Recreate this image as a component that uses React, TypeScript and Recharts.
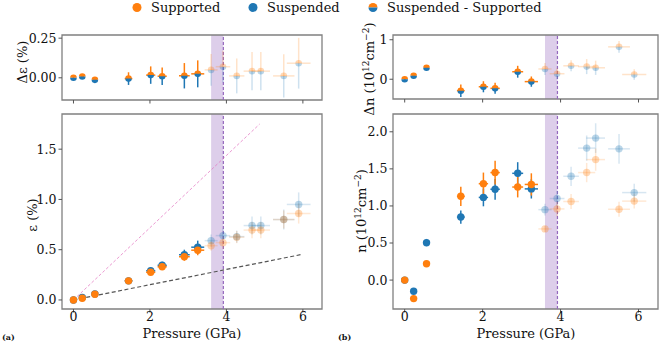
import React from 'react';
import {
  ScatterChart, Scatter, XAxis, YAxis, ErrorBar, ReferenceArea, ReferenceLine,
} from 'recharts';

const ORANGE = '#ff7f0e';
const BLUE = '#1f77b4';
const PURPLE = '#9467bd';
const FONT = '"DejaVu Serif", serif';

// pressure points shared by all panels (GPa)
const pressure = [0, 0.23, 0.56, 1.44, 2.02, 2.32, 2.9, 3.25, 3.6, 3.91, 4.27, 4.67, 4.9, 5.5, 5.89];
const pressureErr = [0.02, 0.05, 0.06, 0.1, 0.12, 0.12, 0.14, 0.17, 0.17, 0.19, 0.2, 0.22, 0.24, 0.28, 0.31];
const FADE_FROM = 8; // points from this index on are drawn translucent

// strain (%)
const strainSupported = [0, 0.017, 0.056, 0.19, 0.275, 0.33, 0.43, 0.495, 0.54, 0.57, 0.625, 0.695, 0.695, 0.8, 0.86];
const strainSupportedErr = [0.005, 0.008, 0.01, 0.015, 0.025, 0.03, 0.04, 0.05, 0.05, 0.06, 0.06, 0.08, 0.08, 0.09, 0.1];
const strainSuspended = [0, 0.025, 0.06, 0.19, 0.29, 0.345, 0.45, 0.525, 0.59, 0.64, 0.63, 0.74, 0.74, 0.8, 0.95];
const strainSuspendedErr = [0.005, 0.01, 0.012, 0.015, 0.03, 0.035, 0.05, 0.065, 0.06, 0.07, 0.06, 0.09, 0.09, 0.1, 0.12];
const strainDiff = [0, 0.008, -0.013, -0.005, 0.017, 0.01, 0.013, 0.025, 0.05, 0.07, 0.012, 0.042, 0.042, 0.012, 0.092];
const strainDiffErr = [0.003, 0.005, 0.006, 0.04, 0.055, 0.055, 0.08, 0.085, 0.1, 0.1, 0.11, 0.12, 0.12, 0.137, 0.16];

// carrier density (1e12 cm^-2)
const densSupported = [0, -0.25, 0.22, 1.13, 1.3, 1.45, 1.255, 1.29, 0.69, 0.96, 1.06, 1.45, 1.625, 0.955, 1.065];
const densSupportedErr = [0.01, 0.01, 0.02, 0.13, 0.15, 0.16, 0.14, 0.15, 0.04, 0.1, 0.1, 0.13, 0.15, 0.1, 0.1];
const densSuspended = [0, -0.15, 0.505, 0.85, 1.115, 1.225, 1.44, 1.23, 0.95, 1.1, 1.4, 1.78, 1.915, 1.77, 1.18];
const densSuspendedErr = [0.01, 0.02, 0.05, 0.09, 0.12, 0.14, 0.15, 0.13, 0.08, 0.1, 0.13, 0.17, 0.2, 0.2, 0.12];
const densDiff = [0, 0.09, 0.29, -0.29, -0.19, -0.23, 0.19, -0.06, 0.26, 0.14, 0.34, 0.32, 0.29, 0.82, 0.12];
const densDiffErr = [0.02, 0.02, 0.03, 0.16, 0.14, 0.14, 0.15, 0.13, 0.15, 0.14, 0.14, 0.19, 0.18, 0.15, 0.13];

// model lines in the strain panel
const pinkModel = [{ x: 0, y: 0 }, { x: 4.87, y: 1.75 }];
const grayModel = [{ x: 0, y: 0 }, { x: 6.0, y: 0.455 }];

// transition band
const band = [3.6, 3.92];

const xDomain = [-0.3, 6.5];
const xTicks = [0, 2, 4, 6];
const strainDiffTicks = [0, 0.25];
const strainTicks = [0, 0.5, 1, 1.5];
const densDiffTicks = [0, 1];
const densTicks = [0, 0.5, 1, 1.5, 2];

type Row = { x: number; y: number; ex: number; ey: number; up: number[]; down: number[]; i: number };

const rows = (ys: number[], errs: number[]): Row[] =>
  pressure.map((x, i) => ({ x, y: ys[i], ex: pressureErr[i], ey: errs[i], up: [0, errs[i]], down: [errs[i], 0], i }));
const solid = (r: Row[]) => r.filter((d) => d.i < FADE_FROM);
const faded = (r: Row[]) => r.filter((d) => d.i >= FADE_FROM);

const Dot = (color: string, r: number, op: number) => (p: any) =>
  <circle cx={p.cx} cy={p.cy} r={r} fill={color} fillOpacity={op} />;

const halfPaths = (cx: number, cy: number, r: number) => ({
  top: `M${cx - r},${cy} A${r},${r} 0 0 1 ${cx + r},${cy} Z`,
  bottom: `M${cx - r},${cy} A${r},${r} 0 0 0 ${cx + r},${cy} Z`,
});

const SplitDot = (r: number, op: number) => (p: any) => {
  const h = halfPaths(p.cx, p.cy, r);
  return (
    <g opacity={op}>
      <path d={h.top} fill={ORANGE} />
      <path d={h.bottom} fill={BLUE} />
    </g>
  );
};

const tickStyle = { fill: '#111', fontSize: 12.5, fontFamily: FONT };

function pointSeries(data: Row[], color: string, op: number, barOp: number, key: string) {
  return (
    <Scatter key={key} data={data} dataKey="y" isAnimationActive={false} shape={Dot(color, 3.7, op)}>
      <ErrorBar dataKey="ey" direction="y" width={0} stroke={color} strokeWidth={1.5} strokeOpacity={barOp} />
      <ErrorBar dataKey="ex" direction="x" width={0} stroke={color} strokeWidth={1.5} strokeOpacity={barOp} />
    </Scatter>
  );
}

function diffSeries(data: Row[], op: number, barOp: number, key: string) {
  return (
    <Scatter key={key} data={data} dataKey="y" isAnimationActive={false} shape={SplitDot(3.3, op)}>
      <ErrorBar dataKey="up" direction="y" width={0} stroke={ORANGE} strokeWidth={1.5} strokeOpacity={barOp} />
      <ErrorBar dataKey="down" direction="y" width={0} stroke={BLUE} strokeWidth={1.5} strokeOpacity={barOp} />
      <ErrorBar dataKey="ex" direction="x" width={0} stroke={ORANGE} strokeWidth={1.5} strokeOpacity={barOp} />
    </Scatter>
  );
}

interface PanelProps {
  left: number; top: number; width: number; height: number;
  marginTop: number; marginRight: number; yWidth: number; xHeight: number;
  yDomain: number[]; yTicks: number[]; yFmt: (v: number) => string;
  xLabels: boolean; children: React.ReactNode;
}

function Panel(p: PanelProps) {
  return (
    <div style={{ position: 'absolute', left: p.left, top: p.top }}>
      <ScatterChart width={p.width} height={p.height}
        margin={{ top: p.marginTop, right: p.marginRight, bottom: 0, left: 0 }}>
        <XAxis type="number" dataKey="x" domain={xDomain} ticks={xTicks} interval={0}
          allowDataOverflow height={p.xHeight} axisLine={false}
          tickLine={{ stroke: '#555' }} tickSize={3.5} tickMargin={0}
          tick={tickStyle} tickFormatter={(v) => (p.xLabels ? String(v) : '')} />
        <YAxis type="number" dataKey="y" domain={p.yDomain} ticks={p.yTicks} interval={0}
          allowDataOverflow width={p.yWidth} axisLine={false}
          tickLine={{ stroke: '#555' }} tickSize={3.5} tickMargin={2}
          tick={tickStyle} tickFormatter={p.yFmt} />
        <ReferenceArea x1={band[0]} x2={band[1]} y1={p.yDomain[0]} y2={p.yDomain[1]}
          fill={PURPLE} fillOpacity={0.32} stroke="none" />
        <ReferenceLine x={band[1]} stroke={PURPLE} strokeWidth={1.2} strokeDasharray="3 2" />
        {p.children}
        <ReferenceArea x1={xDomain[0]} x2={xDomain[1]} y1={p.yDomain[0]} y2={p.yDomain[1]}
          fill="none" stroke="#808080" strokeWidth={1.3} ifOverflow="visible" />
      </ScatterChart>
    </div>
  );
}

const sup = (s: string) => <tspan dy={-5} fontSize={9}>{s}</tspan>;
const base = (s: string) => <tspan dy={5}>{s}</tspan>;

export default function App() {
  const sDiff = rows(strainDiff, strainDiffErr);
  const sSup = rows(strainSupported, strainSupportedErr);
  const sSus = rows(strainSuspended, strainSuspendedErr);
  const nDiff = rows(densDiff, densDiffErr);
  const nSup = rows(densSupported, densSupportedErr);
  const nSus = rows(densSuspended, densSuspendedErr);
  const fmt2 = (v: number) => v.toFixed(2);
  const fmt1 = (v: number) => v.toFixed(1);
  const fmt0 = (v: number) => v.toFixed(0);
  const h = halfPaths(373, 7.5, 4.5);

  return (
    <div style={{ position: 'absolute', left: 0, top: 0, width: 661, height: 343, background: '#fff', fontFamily: FONT }}>
      <Panel left={0} top={0} width={330} height={112} marginTop={35} marginRight={8} yWidth={62} xHeight={12}
        yDomain={[-0.14, 0.27]} yTicks={strainDiffTicks} yFmt={fmt2} xLabels={false}>
        {diffSeries(solid(sDiff), 1, 1, 'ds')}
        {diffSeries(faded(sDiff), 0.3, 0.22, 'df')}
      </Panel>
      <Panel left={0} top={105} width={330} height={238} marginTop={9} marginRight={8} yWidth={62} xHeight={34}
        yDomain={[-0.09, 1.85]} yTicks={strainTicks} yFmt={fmt1} xLabels>
        <ReferenceLine segment={pinkModel} stroke="#e377c2" strokeOpacity={0.75} strokeWidth={1} strokeDasharray="3 2" />
        <ReferenceLine segment={grayModel} stroke="#555" strokeWidth={1.2} strokeDasharray="4 2.5" />
        {pointSeries(solid(sSus), BLUE, 1, 1, 'bs')}
        {pointSeries(solid(sSup), ORANGE, 1, 1, 'os')}
        {pointSeries(faded(sSus), BLUE, 0.3, 0.18, 'bf')}
        {pointSeries(faded(sSup), ORANGE, 0.3, 0.18, 'of')}
      </Panel>
      <Panel left={330} top={0} width={331} height={112} marginTop={35} marginRight={3} yWidth={63} xHeight={13}
        yDomain={[-0.5, 1.12]} yTicks={densDiffTicks} yFmt={fmt0} xLabels={false}>
        {diffSeries(solid(nDiff), 1, 1, 'ds')}
        {diffSeries(faded(nDiff), 0.3, 0.22, 'df')}
      </Panel>
      <Panel left={330} top={105} width={331} height={238} marginTop={9} marginRight={3} yWidth={63} xHeight={34}
        yDomain={[-0.39, 2.24]} yTicks={densTicks} yFmt={fmt1} xLabels>
        {pointSeries(solid(nSus), BLUE, 1, 1, 'bs')}
        {pointSeries(solid(nSup), ORANGE, 1, 1, 'os')}
        {pointSeries(faded(nSus), BLUE, 0.3, 0.18, 'bf')}
        {pointSeries(faded(nSup), ORANGE, 0.3, 0.18, 'of')}
      </Panel>

      <svg width={661} height={343} style={{ position: 'absolute', left: 0, top: 0, pointerEvents: 'none' }}
        fontFamily={FONT} fill="#111">
        {/* legend */}
        <circle cx={137} cy={7.5} r={4.5} fill={ORANGE} />
        <text x={151} y={7.5} fontSize={13} dominantBaseline="central">Supported</text>
        <circle cx={253} cy={7.5} r={4.5} fill={BLUE} />
        <text x={267} y={7.5} fontSize={13} dominantBaseline="central">Suspended</text>
        <path d={h.top} fill={ORANGE} />
        <path d={h.bottom} fill={BLUE} />
        <text x={387} y={7.5} fontSize={13} dominantBaseline="central">Suspended - Supported</text>

        {/* axis labels */}
        <text x={22} y={62} fontSize={13} textAnchor="middle" dominantBaseline="central"
          transform="rotate(-90 22 62)">Δε (%)</text>
        <text x={32} y={215} fontSize={13} textAnchor="middle" dominantBaseline="central"
          transform="rotate(-90 32 215)">ε (%)</text>
        <text x={374} y={69} fontSize={13} textAnchor="middle"
          transform="rotate(-90 374 69)">Δn (10{sup('12')}{base('cm')}{sup('−2')}{base(')')}</text>
        <text x={366} y={211} fontSize={13} textAnchor="middle"
          transform="rotate(-90 366 211)">n (10{sup('12')}{base('cm')}{sup('−2')}{base(')')}</text>
        <text x={192} y={333} fontSize={13} textAnchor="middle" dominantBaseline="central">Pressure (GPa)</text>
        <text x={526} y={333} fontSize={13} textAnchor="middle" dominantBaseline="central">Pressure (GPa)</text>
        <text x={2} y={339.5} fontSize={8} fontWeight="bold">(a)</text>
        <text x={338} y={339.5} fontSize={8} fontWeight="bold">(b)</text>
      </svg>
    </div>
  );
}
